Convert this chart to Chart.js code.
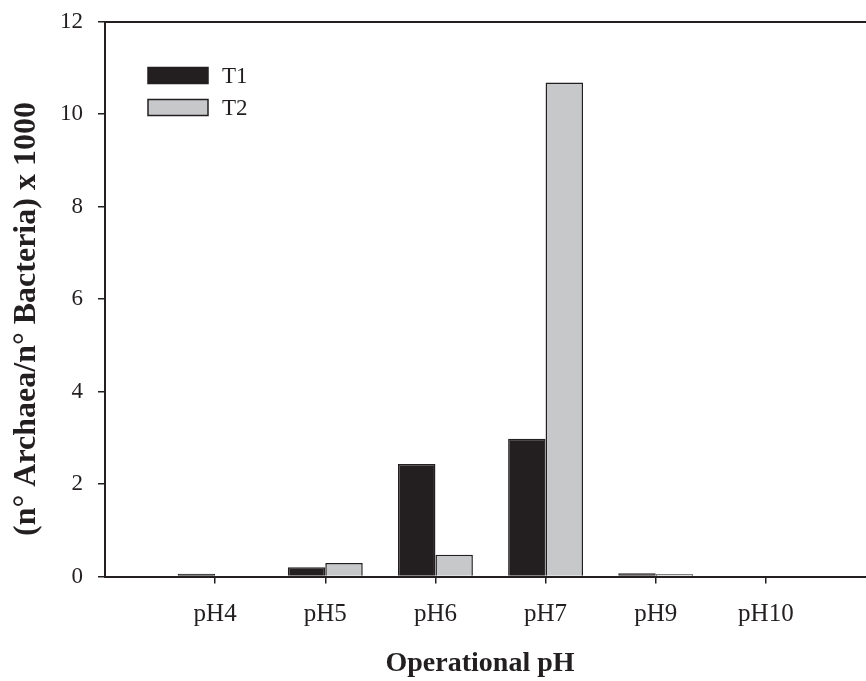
<!DOCTYPE html>
<html>
<head>
<meta charset="utf-8">
<script src="https://cdn.jsdelivr.net/npm/chart.js@4.4.1/dist/chart.umd.min.js"></script>
<style>
  html, body { margin: 0; padding: 0; background: #fff; overflow: hidden; }
  #wrap { width: 866px; height: 681px; overflow: hidden; }
</style>
</head>
<body>
<div id="wrap"><canvas id="archaeaChart" width="900" height="681"></canvas></div>
<script>
// datos
const categories = ['pH4', 'pH5', 'pH6', 'pH7', 'pH9', 'pH10'];
const t1Values = [0.06, 0.20, 2.43, 2.98, 0.07, 0];
const t2Values = [0, 0.29, 0.47, 10.68, 0.05, 0];
const yTicks = [0, 2, 4, 6, 8, 10, 12];

const ink = '#231f20';
const serif = "'Liberation Serif', 'Times New Roman', serif";

// hueco vacio al inicio y al final del eje
const labels = [''].concat(categories, ['']);
const pad = arr => [null].concat(arr, [null]);

// leyenda dentro del area de trazado
const insideLegend = {
    id: 'insideLegend',
    afterDraw(chart) {
        const { ctx, chartArea } = chart;
        ctx.save();
        ctx.font = '23px ' + serif;
        ctx.textBaseline = 'middle';
        chart.data.datasets.forEach((ds, i) => {
            const x = chartArea.left + 43;
            const y = chartArea.top + 46 + i * 32;
            ctx.fillStyle = ds.backgroundColor;
            ctx.fillRect(x, y, 60, 16);
            ctx.strokeStyle = ink;
            ctx.lineWidth = 1.5;
            ctx.strokeRect(x, y, 60, 16);
            ctx.fillStyle = ink;
            ctx.fillText(ds.label, x + 74, y + 9);
        });
        ctx.restore();
    }
};

new Chart(document.getElementById('archaeaChart').getContext('2d'), {
    type: 'bar',
    data: {
        labels: labels,
        datasets: [
            {
                label: 'T1',
                data: pad(t1Values),
                backgroundColor: ink,
                borderColor: ink,
                borderWidth: 1.5,
                categoryPercentage: 0.68,
                barPercentage: 1.0
            },
            {
                label: 'T2',
                data: pad(t2Values),
                backgroundColor: '#c7c8ca',
                borderColor: ink,
                borderWidth: 1.5,
                categoryPercentage: 0.68,
                barPercentage: 1.0
            }
        ]
    },
    options: {
        responsive: false,
        animation: false,
        layout: { padding: { top: 21.5, right: 24, left: 0, bottom: 0 } },
        plugins: {
            legend: { display: false },
            tooltip: { enabled: false }
        },
        scales: {
            x: {
                type: 'category',
                offset: false,
                grid: {
                    offset: false,
                    drawOnChartArea: false,
                    tickLength: 7,
                    lineWidth: 1.5,
                    color: ctx => ctx.index === 0 ? 'rgba(0,0,0,0)' : ink
                },
                border: { color: ink, width: 2 },
                ticks: {
                    color: ink,
                    font: { family: serif, size: 25 },
                    padding: 16,
                    maxRotation: 0,
                    autoSkip: false
                },
                title: {
                    display: true,
                    text: 'Operational pH\u00a0\u00a0\u00a0',
                    color: ink,
                    font: { family: serif, size: 28, weight: 'bold' },
                    padding: { top: 0, bottom: 0 }
                },
                afterFit: scale => { scale.height = 104.5; }
            },
            xTop: {
                type: 'category',
                position: 'top',
                offset: false,
                grid: { display: false },
                border: { color: ink, width: 2 },
                ticks: { display: false },
                afterFit: scale => { scale.height = 0; }
            },
            y: {
                min: 0,
                max: 12,
                afterBuildTicks: scale => { scale.ticks = yTicks.map(v => ({ value: v })); },
                grid: {
                    drawOnChartArea: false,
                    tickLength: 7,
                    lineWidth: 1.5,
                    color: ink
                },
                border: { color: ink, width: 2 },
                ticks: {
                    color: ink,
                    font: { family: serif, size: 23 },
                    padding: 15
                },
                title: {
                    display: true,
                    text: '(n° Archaea/n° Bacteria) x 1000\u00a0\u00a0\u00a0\u00a0\u00a0',
                    color: ink,
                    font: { family: serif, size: 32, weight: 'bold' },
                    padding: { top: 8, bottom: 0 }
                },
                afterFit: scale => {
                    scale.width = 105;
                    scale.paddingTop = 0;
                    scale.paddingBottom = 0;
                }
            }
        }
    },
    plugins: [insideLegend]
});
</script>
</body>
</html>
